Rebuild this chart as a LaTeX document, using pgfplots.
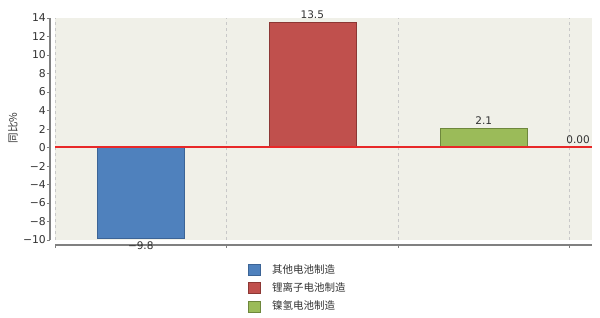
\documentclass[border=0pt]{standalone}
\usepackage{fontspec}
\setmainfont{DejaVu Sans}
\newfontfamily\cjk{Noto Sans CJK SC}
\usepackage{pgfplots}
\pgfplotsset{compat=1.18}
\definecolor{bgc}{RGB}{240,240,232}
\definecolor{axgray}{RGB}{128,128,128}
\definecolor{gridgray}{RGB}{200,200,200}
\definecolor{labgray}{RGB}{50,50,50}
\definecolor{cblue}{RGB}{79,129,189}
\definecolor{cbluedark}{RGB}{60,100,150}
\definecolor{cred}{RGB}{192,80,77}
\definecolor{creddark}{RGB}{140,55,52}
\definecolor{cgreen}{RGB}{155,187,89}
\definecolor{cgreendark}{RGB}{110,135,60}
\definecolor{zeroline}{RGB}{232,40,40}
\begin{document}
\begin{tikzpicture}
\path[use as bounding box] (0,0) rectangle (600bp,318bp);
\begin{axis}[
  at={(55bp,78bp)}, anchor=south west,
  scale only axis, width=537bp, height=222bp,
  xmin=0, xmax=3.131, ymin=-10, ymax=14,
  axis x line*=bottom, axis y line*=left,
  axis x line shift=5bp, axis y line shift=5bp,
  axis line style={draw=axgray, line width=1.2bp},
  axis background/.style={fill=bgc},
  ytick={-10,-8,...,14},
  yticklabels={−10,−8,−6,−4,−2,0,2,4,6,8,10,12,14},
  xtick={0,1,2,3}, xticklabels={},
  xmajorgrids,
  major grid style={dashed, gridgray, line width=0.8bp},
  tick style={axgray, line width=0.8bp},
  major tick length=3bp,
  tick align=outside,
  ticklabel style={font=\fontsize{10.8bp}{12bp}\selectfont, text=labgray},
  yticklabel style={inner sep=1bp},
  legend style={at={(0.359,-0.10)}, anchor=north west, draw=none, fill=none,
    font=\cjk\fontsize{10.5bp}{12bp}\selectfont, text=labgray,
    row sep=4bp, inner sep=0pt},
  legend cell align=left,
  legend image code/.code={\fill[#1] (0bp,-5.5bp) rectangle (12bp,5.5bp);
    \path[draw=none, fill=none] (12bp,0bp) -- (22bp,0bp);},
  every node near coord/.append style={font=\fontsize{10.5bp}{12bp}\selectfont, text=labgray},
  clip=false,
]
% other battery manufacturing
\addplot[ybar, bar width=87bp, bar shift=0pt, fill=cblue, draw=cbluedark,
  nodes near coords, point meta=explicit symbolic, nodes near coords align={below}]
  coordinates {(0.5,-9.8) [−9.8]};
\addlegendentry{其他电池制造}
% lithium-ion battery manufacturing
\addplot[ybar, bar width=87bp, bar shift=0pt, fill=cred, draw=creddark,
  nodes near coords, point meta=explicit symbolic, nodes near coords align={above}]
  coordinates {(1.5,13.5) [13.5]};
\addlegendentry{锂离子电池制造}
% nickel-metal hydride battery manufacturing
\addplot[ybar, bar width=87bp, bar shift=0pt, fill=cgreen, draw=cgreendark,
  nodes near coords, point meta=explicit symbolic, nodes near coords align={above}]
  coordinates {(2.5,2.1) [2.1]};
\addlegendentry{镍氢电池制造}
% zero reference line
\addplot[zeroline, line width=2bp, forget plot] coordinates {(0,0) (3.131,0)};
\addplot[draw=none, forget plot, nodes near coords, point meta=explicit symbolic,
  nodes near coords align={above}] coordinates {(3.05,0) [0.00]};
\end{axis}
\node[rotate=90, font=\cjk\fontsize{10.5bp}{12bp}\selectfont, text=labgray] at (13bp,190bp) {同比\%};
\end{tikzpicture}
\end{document}
